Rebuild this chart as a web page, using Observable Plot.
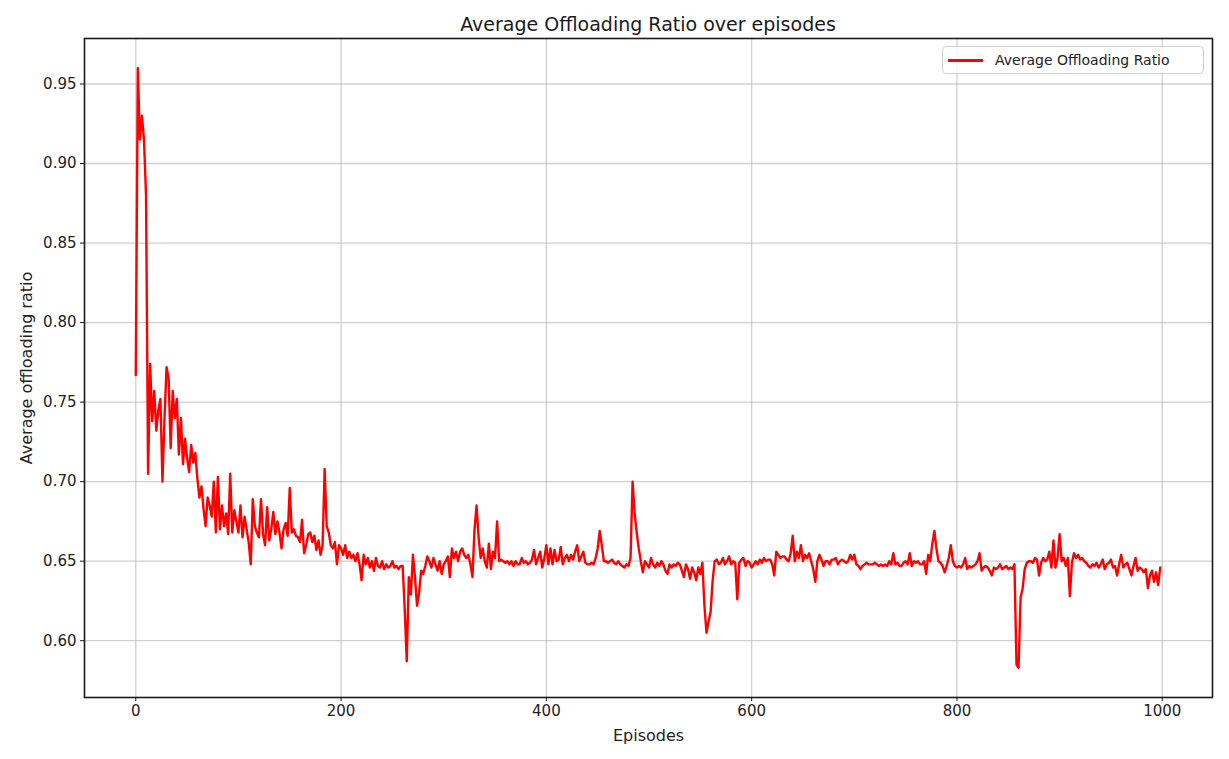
<!DOCTYPE html>
<html>
<head>
<meta charset="utf-8">
<script src="https://cdn.jsdelivr.net/npm/d3@7"></script>
<script src="https://cdn.jsdelivr.net/npm/@observablehq/plot@0.6"></script>
<style>
  html, body { margin: 0; padding: 0; background: #fff; }
  #wrap { position: relative; width: 1229px; height: 759px; font-family: "DejaVu Sans", sans-serif; }
  #title { position: relative; width: 1229px; height: 30px; }
  #title span { position: absolute; left: 648px; top: 15px; transform: translateX(-50%); font-size: 19px; line-height: 19px; color: #1a1a1a; white-space: nowrap; }
  #legend { position: absolute; left: 942px; top: 46px; width: 262px; height: 28px; box-sizing: border-box; border: 1px solid #cfcfcf; border-radius: 4px; background: rgba(255,255,255,0.85); }
  #legend .swatch { position: absolute; left: 5px; top: 12px; width: 35px; height: 2.5px; background: #ff0000; }
  #legend .txt { position: absolute; left: 52px; top: 5px; font-size: 14px; line-height: 16px; color: #222; white-space: nowrap; }
</style>
</head>
<body>
<div id="wrap">
  <div id="title"><span>Average Offloading Ratio over episodes</span></div>
  <div id="chart"></div>
  <div id="legend"><div class="swatch"></div><div class="txt">Average Offloading Ratio</div></div>
</div>
<script>
// Average offloading ratio, every 2 episodes (0, 2, ..., 998)
const ratio = [
  0.767, 0.960, 0.915, 0.930, 0.915, 0.880, 0.705, 0.774, 0.738, 0.757,
  0.732, 0.745, 0.752, 0.700, 0.740, 0.772, 0.765, 0.721, 0.757, 0.740,
  0.752, 0.717, 0.740, 0.711, 0.727, 0.715, 0.706, 0.723, 0.712, 0.718,
  0.702, 0.690, 0.697, 0.683, 0.672, 0.690, 0.685, 0.678, 0.700, 0.668,
  0.703, 0.670, 0.685, 0.672, 0.680, 0.667, 0.705, 0.668, 0.682, 0.675,
  0.668, 0.685, 0.665, 0.678, 0.670, 0.662, 0.648, 0.689, 0.672, 0.668,
  0.665, 0.689, 0.667, 0.660, 0.684, 0.663, 0.670, 0.681, 0.667, 0.675,
  0.668, 0.658, 0.670, 0.674, 0.666, 0.696, 0.668, 0.670, 0.666, 0.665,
  0.662, 0.676, 0.655, 0.660, 0.667, 0.668, 0.662, 0.666, 0.657, 0.663,
  0.654, 0.660, 0.708, 0.672, 0.668, 0.660, 0.658, 0.662, 0.648, 0.660,
  0.658, 0.654, 0.660, 0.652, 0.656, 0.652, 0.654, 0.650, 0.655, 0.648,
  0.638, 0.654, 0.648, 0.652, 0.646, 0.650, 0.644, 0.652, 0.647, 0.646,
  0.650, 0.645, 0.648, 0.646, 0.647, 0.650, 0.646, 0.647, 0.645, 0.647,
  0.647, 0.620, 0.587, 0.640, 0.629, 0.654, 0.640, 0.622, 0.630, 0.644,
  0.642, 0.647, 0.653, 0.650, 0.646, 0.652, 0.648, 0.644, 0.650, 0.642,
  0.648, 0.650, 0.653, 0.640, 0.658, 0.652, 0.656, 0.650, 0.656, 0.658,
  0.654, 0.652, 0.654, 0.648, 0.640, 0.670, 0.685, 0.665, 0.652, 0.658,
  0.650, 0.646, 0.661, 0.645, 0.656, 0.652, 0.675, 0.650, 0.651, 0.650,
  0.649, 0.650, 0.648, 0.650, 0.647, 0.650, 0.648, 0.648, 0.652, 0.649,
  0.650, 0.648, 0.649, 0.651, 0.657, 0.648, 0.652, 0.656, 0.646, 0.652,
  0.660, 0.648, 0.658, 0.648, 0.657, 0.650, 0.651, 0.659, 0.648, 0.652,
  0.654, 0.650, 0.654, 0.651, 0.656, 0.660, 0.650, 0.653, 0.656, 0.649,
  0.648, 0.648, 0.649, 0.648, 0.652, 0.658, 0.669, 0.660, 0.650, 0.650,
  0.649, 0.650, 0.651, 0.649, 0.648, 0.650, 0.648, 0.647, 0.646, 0.648,
  0.647, 0.652, 0.700, 0.680, 0.668, 0.658, 0.650, 0.643, 0.650, 0.648,
  0.646, 0.652, 0.648, 0.646, 0.649, 0.647, 0.650, 0.648, 0.644, 0.642,
  0.648, 0.646, 0.648, 0.647, 0.649, 0.648, 0.644, 0.640, 0.648, 0.645,
  0.639, 0.646, 0.643, 0.638, 0.646, 0.642, 0.649, 0.622, 0.605, 0.612,
  0.618, 0.638, 0.650, 0.651, 0.648, 0.649, 0.652, 0.648, 0.650, 0.653,
  0.648, 0.650, 0.649, 0.626, 0.649, 0.651, 0.652, 0.647, 0.650, 0.649,
  0.646, 0.648, 0.650, 0.648, 0.651, 0.649, 0.652, 0.650, 0.651, 0.651,
  0.648, 0.641, 0.656, 0.654, 0.652, 0.653, 0.653, 0.651, 0.650, 0.655,
  0.666, 0.650, 0.656, 0.652, 0.660, 0.650, 0.654, 0.652, 0.655, 0.650,
  0.645, 0.637, 0.650, 0.654, 0.651, 0.647, 0.650, 0.650, 0.648, 0.651,
  0.651, 0.652, 0.648, 0.650, 0.651, 0.650, 0.649, 0.650, 0.654, 0.651,
  0.654, 0.648, 0.647, 0.645, 0.647, 0.648, 0.649, 0.648, 0.648, 0.648,
  0.649, 0.648, 0.647, 0.648, 0.647, 0.648, 0.647, 0.650, 0.648, 0.655,
  0.648, 0.649, 0.647, 0.647, 0.649, 0.650, 0.648, 0.655, 0.647, 0.650,
  0.649, 0.650, 0.648, 0.648, 0.650, 0.642, 0.654, 0.650, 0.661, 0.669,
  0.658, 0.650, 0.649, 0.647, 0.643, 0.647, 0.652, 0.660, 0.650, 0.647,
  0.646, 0.647, 0.646, 0.648, 0.652, 0.645, 0.647, 0.646, 0.647, 0.648,
  0.650, 0.655, 0.644, 0.646, 0.647, 0.646, 0.644, 0.641, 0.646, 0.645,
  0.646, 0.648, 0.645, 0.646, 0.647, 0.645, 0.646, 0.645, 0.648, 0.585,
  0.583, 0.627, 0.633, 0.645, 0.649, 0.650, 0.650, 0.649, 0.652, 0.651,
  0.641, 0.649, 0.652, 0.650, 0.651, 0.656, 0.646, 0.663, 0.646, 0.652,
  0.667, 0.650, 0.652, 0.647, 0.652, 0.628, 0.649, 0.655, 0.652, 0.654,
  0.651, 0.652, 0.650, 0.649, 0.647, 0.646, 0.648, 0.647, 0.649, 0.646,
  0.648, 0.651, 0.645, 0.648, 0.649, 0.651, 0.646, 0.647, 0.641, 0.648,
  0.654, 0.646, 0.648, 0.649, 0.645, 0.641, 0.647, 0.652, 0.644, 0.646,
  0.645, 0.643, 0.645, 0.633, 0.641, 0.644, 0.637, 0.643, 0.635, 0.646
];
const episodeStep = 2;
const xTicks = [0, 200, 400, 600, 800, 1000];
const yTicks = [0.60, 0.65, 0.70, 0.75, 0.80, 0.85, 0.90, 0.95];

const data = ratio.map((v, i) => ({episode: i * episodeStep, ratio: v}));

const chart = Plot.plot({
  width: 1229,
  height: 729,
  marginLeft: 84,
  marginRight: 17,
  marginTop: 8,
  marginBottom: 62,
  style: {fontFamily: "DejaVu Sans, sans-serif", fontSize: "15px", color: "#222", background: "#fff"},
  x: {domain: [-49.95, 1048.95]},
  y: {domain: [0.5643, 0.9786]},
  marks: [
    Plot.gridX(xTicks, {stroke: "#b0b0b0", strokeOpacity: 0.6, strokeWidth: 1.3}),
    Plot.gridY(yTicks, {stroke: "#b0b0b0", strokeOpacity: 0.6, strokeWidth: 1.3}),
    Plot.line(data, {x: "episode", y: "ratio", stroke: "#ff0000", strokeWidth: 2.4, strokeLinejoin: "round"}),
    Plot.frame({stroke: "#1a1a1a", strokeWidth: 1.6}),
    Plot.axisX(xTicks, {tickSize: 4, tickPadding: 4, tickFormat: d => String(d), label: null, stroke: "#1a1a1a"}),
    Plot.axisY(yTicks, {tickSize: 4, tickPadding: 4, tickFormat: d3.format(".2f"), label: null, stroke: "#1a1a1a"}),
    Plot.axisX([], {label: "Episodes", labelAnchor: "center", labelArrow: "none", labelOffset: 43, fontSize: 16, tickSize: 0}),
    Plot.axisY([], {label: "Average offloading ratio", labelAnchor: "center", labelArrow: "none", labelOffset: 64, fontSize: 16, tickSize: 0})
  ]
});
document.getElementById("chart").appendChild(chart);
</script>
</body>
</html>
